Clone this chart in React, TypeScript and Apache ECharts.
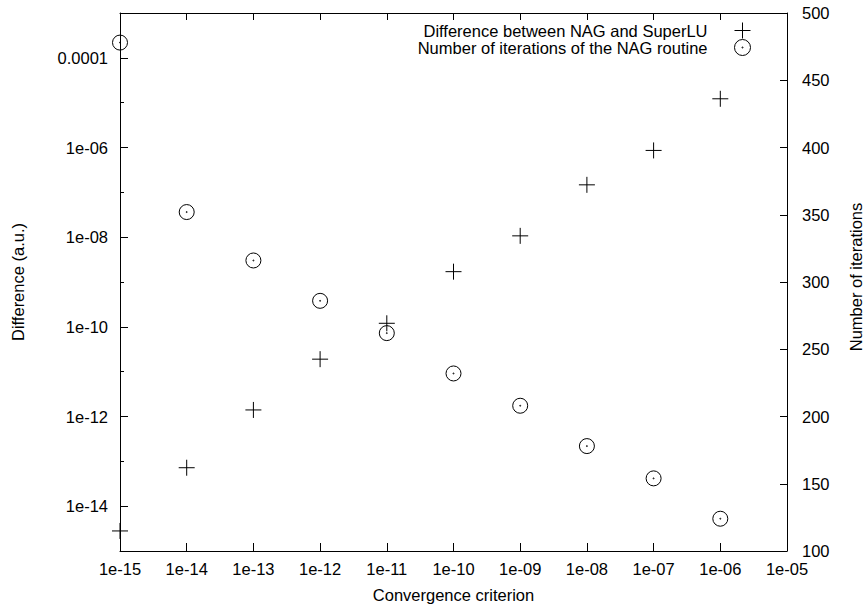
import React, { useEffect, useRef } from 'react';
import * as echarts from 'echarts';

// ---- data ----
const criteria = [1e-15, 1e-14, 1e-13, 1e-12, 1e-11, 1e-10, 1e-9, 1e-8, 1e-7, 1e-6];
const differences = [2.8e-15, 7.2e-14, 1.4e-12, 1.9e-11, 1.2e-10, 1.7e-9, 1.07e-8, 1.47e-7, 8.6e-7, 1.22e-5];
const iterations = [478, 352, 316, 286, 262, 232, 208, 178, 154, 124];

const seriesNames = ['Difference between NAG and SuperLU', 'Number of iterations of the NAG routine'];

const xTickLabels = ['1e-15', '1e-14', '1e-13', '1e-12', '1e-11', '1e-10', '1e-09', '1e-08', '1e-07', '1e-06', '1e-05'];
const yTickLabels = ['1e-15', '1e-14', '1e-13', '1e-12', '1e-11', '1e-10', '1e-09', '1e-08', '1e-07', '1e-06', '1e-05', '0.0001', '0.001'];
const xRange = [1e-15, 1e-5];
const yRange = [1e-15, 1e-3];
const y2Range = [100, 500];
const y2Step = 50;

const FONT = '"Liberation Sans", Arial, Helvetica, sans-serif';
const FS = 16.5;
const BLACK = '#000';

const PLUS = 'path://M0,8H16M8,0V16';
const CIRCLE_DOT =
  'path://M0.5,8A7.5,7.5 0 1 1 15.5,8A7.5,7.5 0 1 1 0.5,8Z' +
  'M7.5,8A0.5,0.5 0 1 1 8.5,8A0.5,0.5 0 1 1 7.5,8Z';

const isLabeled = (i: number) => i % 2 === 1;

export default function App() {
  const ref = useRef<HTMLDivElement>(null);

  useEffect(() => {
    if (!ref.current) return;
    const chart = echarts.init(ref.current, null, { renderer: 'svg' });
    const lineStyle = { color: BLACK, width: 1 };
    const option: any = {
      animation: false,
      backgroundColor: '#fff',
      textStyle: { fontFamily: FONT, color: BLACK },
      grid: { left: 120, right: 77, top: 13, bottom: 54, containLabel: false, outerBoundsMode: 'none' },
      legend: {
        data: seriesNames,
        orient: 'vertical',
        align: 'right',
        right: 113,
        top: 22,
        itemWidth: 60,
        itemHeight: 16,
        itemGap: 0,
        padding: 0,
        selectedMode: false,
        itemStyle: { borderWidth: 1 },
        textStyle: { fontSize: FS, fontFamily: FONT, color: BLACK },
      },
      xAxis: [
        { type: 'log', logBase: 10, min: xRange[0], max: xRange[1], show: false, position: 'bottom' },
        {
          type: 'category',
          data: xTickLabels,
          boundaryGap: false,
          position: 'bottom',
          axisLine: { show: true, lineStyle },
          axisTick: { show: true, inside: true, length: 8, interval: 0, lineStyle },
          axisLabel: { show: true, interval: 0, margin: 9.5, color: BLACK, fontSize: FS, fontFamily: FONT },
          splitLine: { show: false },
          name: 'Convergence criterion',
          nameLocation: 'middle',
          nameGap: 35,
          nameTextStyle: { color: BLACK, fontSize: FS, fontFamily: FONT },
        },
        {
          type: 'category',
          data: xTickLabels,
          boundaryGap: false,
          position: 'top',
          axisLine: { show: true, lineStyle },
          axisTick: { show: true, inside: true, length: 7, interval: 0, lineStyle },
          axisLabel: { show: false },
          splitLine: { show: false },
        },
      ],
      yAxis: [
        { type: 'log', logBase: 10, min: yRange[0], max: yRange[1], show: false, position: 'left' },
        {
          type: 'value',
          min: y2Range[0],
          max: y2Range[1],
          interval: y2Step,
          position: 'right',
          axisLine: { show: true, lineStyle },
          axisTick: { show: true, inside: true, length: 7, lineStyle },
          axisLabel: { show: true, margin: 15, color: BLACK, fontSize: FS, fontFamily: FONT },
          splitLine: { show: false },
          name: 'Number of iterations',
          nameLocation: 'middle',
          nameRotate: 90,
          nameGap: 60,
          nameTextStyle: { color: BLACK, fontSize: FS, fontFamily: FONT, padding: [0, 0, 0, 10] },
        },
        {
          type: 'category',
          data: yTickLabels,
          boundaryGap: false,
          position: 'left',
          axisLine: { show: true, lineStyle },
          axisTick: { show: true, inside: true, length: 4, interval: 0, lineStyle },
          axisLabel: { show: false },
          splitLine: { show: false },
        },
        {
          type: 'category',
          data: yTickLabels,
          boundaryGap: false,
          position: 'left',
          axisLine: { show: false },
          axisTick: { show: true, inside: true, length: 8, interval: (i: number) => isLabeled(i), lineStyle },
          axisLabel: {
            show: true,
            interval: (i: number) => isLabeled(i),
            margin: 12,
            color: BLACK,
            fontSize: FS,
            fontFamily: FONT,
          },
          splitLine: { show: false },
          name: 'Difference (a.u.)',
          nameLocation: 'middle',
          nameRotate: 90,
          nameGap: 94,
          nameTextStyle: { color: BLACK, fontSize: FS, fontFamily: FONT },
        },
      ],
      series: [
        {
          name: seriesNames[0],
          type: 'scatter',
          xAxisIndex: 0,
          yAxisIndex: 0,
          data: criteria.map((c, i) => [c, differences[i]]),
          symbol: PLUS,
          symbolSize: 16,
          symbolKeepAspect: true,
          itemStyle: { color: 'rgba(0,0,0,0)', borderColor: BLACK, borderWidth: 1, opacity: 1 },
          emphasis: { disabled: true },
          silent: true,
          clip: false,
          z: 3,
        },
        {
          name: seriesNames[1],
          type: 'scatter',
          xAxisIndex: 0,
          yAxisIndex: 1,
          data: criteria.map((c, i) => [c, iterations[i]]),
          symbol: CIRCLE_DOT,
          symbolSize: 15,
          symbolKeepAspect: true,
          itemStyle: { color: 'rgba(0,0,0,0)', borderColor: BLACK, borderWidth: 1, opacity: 1 },
          emphasis: { disabled: true },
          silent: true,
          clip: false,
          z: 3,
        },
      ],
    };
    chart.setOption(option);
    return () => {
      chart.dispose();
    };
  }, []);

  return (
    <div
      ref={ref}
      style={{ position: 'fixed', left: 0, top: 0, width: 864, height: 605, background: '#fff' }}
    />
  );
}
